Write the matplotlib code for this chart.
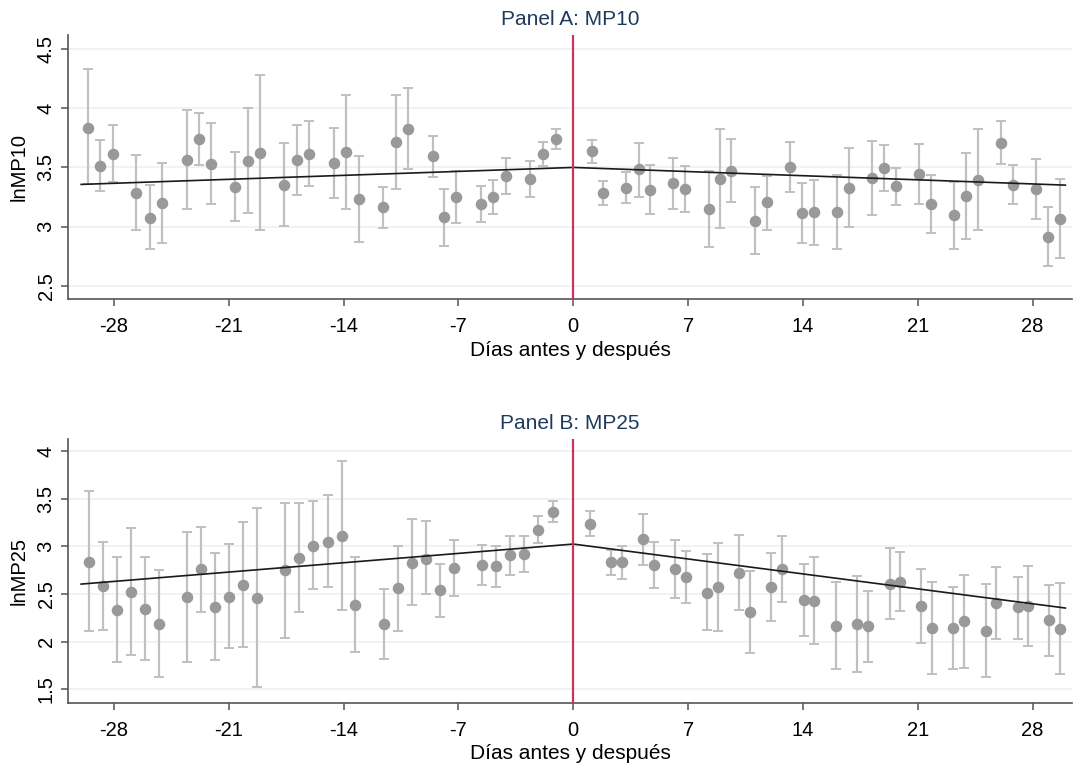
import matplotlib
matplotlib.use("Agg")
import matplotlib.pyplot as plt
import numpy as np

plt.rcParams["font.family"] = ["Liberation Sans", "DejaVu Sans"]

# Panel A: MP10
days_a = [-29.58, -28.85, -28.06, -26.63, -25.82, -25.07, -23.57, -22.84, -22.11,
          -20.61, -19.84, -19.11, -17.61, -16.83, -16.10, -14.61, -13.85, -13.08,
          -11.62, -10.81, -10.08, -8.58, -7.85, -7.12, -5.60, -4.87, -4.10,
          -2.62, -1.86, -1.07,
          1.12, 1.83, 3.23, 3.98, 4.69, 6.09, 6.84, 8.25, 8.95, 9.64,
          11.10, 11.81, 13.23, 13.96, 14.67, 16.09, 16.82, 18.22, 18.95, 19.68,
          21.06, 21.81, 23.23, 23.94, 24.69, 26.09, 26.80, 28.24, 28.95, 29.66]
mean_a = [3.834, 3.514, 3.615, 3.284, 3.076, 3.197, 3.562, 3.736, 3.525,
          3.337, 3.551, 3.624, 3.354, 3.562, 3.615, 3.534, 3.626, 3.230,
          3.163, 3.713, 3.826, 3.593, 3.079, 3.247, 3.194, 3.253, 3.427,
          3.399, 3.612, 3.739,
          3.635, 3.287, 3.326, 3.483, 3.312, 3.365, 3.315, 3.152, 3.404, 3.472,
          3.051, 3.205, 3.500, 3.112, 3.121, 3.124, 3.329, 3.407, 3.492, 3.340,
          3.444, 3.188, 3.098, 3.256, 3.393, 3.705, 3.351, 3.320, 2.916, 3.067]
upper_a = [4.329, 3.730, 3.854, 3.601, 3.348, 3.537, 3.986, 3.958, 3.874,
           3.629, 4.000, 4.281, 3.705, 3.860, 3.888, 3.831, 4.110, 3.593,
           3.334, 4.107, 4.169, 3.767, 3.317, 3.472, 3.346, 3.396, 3.579,
           3.553, 3.713, 3.823,
           3.728, 3.385, 3.461, 3.702, 3.520, 3.579, 3.514, 3.472, 3.826, 3.742,
           3.331, 3.430, 3.711, 3.365, 3.393, 3.438, 3.660, 3.722, 3.685, 3.494,
           3.699, 3.433, 3.376, 3.618, 3.823, 3.888, 3.517, 3.573, 3.163, 3.402]
lower_a = [3.357, 3.301, 3.379, 2.972, 2.809, 2.860, 3.146, 3.522, 3.188,
           3.051, 3.112, 2.972, 3.006, 3.272, 3.343, 3.244, 3.146, 2.871,
           2.992, 3.320, 3.483, 3.421, 2.837, 3.028, 3.039, 3.107, 3.275,
           3.250, 3.511, 3.654,
           3.537, 3.185, 3.197, 3.253, 3.110, 3.149, 3.121, 2.829, 2.989, 3.205,
           2.770, 2.975, 3.292, 2.862, 2.848, 2.812, 3.000, 3.101, 3.298, 3.185,
           3.194, 2.949, 2.812, 2.899, 2.969, 3.525, 3.188, 3.065, 2.666, 2.733]
fit_x_a = [-30, 0, 30]
fit_y_a = [3.357, 3.500, 3.351]

# Panel B: MP25
days_b = [-29.52, -28.67, -27.82, -26.97, -26.11, -25.26, -23.53, -22.70, -21.83,
          -21.00, -20.12, -19.27, -17.57, -16.70, -15.84, -14.97, -14.10, -13.29,
          -11.56, -10.69, -9.84, -8.97, -8.11, -7.26, -5.56, -4.69, -3.85,
          -2.98, -2.13, -1.25,
          1.02, 2.31, 2.96, 4.24, 4.91, 6.23, 6.90, 8.18, 8.85, 10.13,
          10.77, 12.07, 12.74, 14.04, 14.69, 15.99, 17.31, 17.98, 19.28, 19.90,
          21.22, 21.89, 23.17, 23.82, 25.14, 25.79, 27.09, 27.74, 29.03, 29.70]
mean_b = [2.839, 2.583, 2.331, 2.517, 2.338, 2.184, 2.464, 2.759, 2.359,
          2.471, 2.594, 2.461, 2.748, 2.881, 3.008, 3.050, 3.106, 2.387,
          2.180, 2.559, 2.829, 2.871, 2.538, 2.769, 2.804, 2.794, 2.910,
          2.917, 3.176, 3.365,
          3.236, 2.836, 2.836, 3.074, 2.808, 2.766, 2.675, 2.513, 2.569, 2.720,
          2.310, 2.573, 2.759, 2.433, 2.429, 2.163, 2.180, 2.159, 2.604, 2.626,
          2.373, 2.142, 2.142, 2.212, 2.114, 2.405, 2.359, 2.373, 2.226, 2.135]
upper_b = [3.583, 3.043, 2.888, 3.197, 2.884, 2.752, 3.151, 3.208, 2.927,
           3.025, 3.260, 3.407, 3.457, 3.457, 3.474, 3.537, 3.895, 2.888,
           2.548, 3.008, 3.292, 3.264, 2.818, 3.064, 3.018, 3.008, 3.113,
           3.106, 3.316, 3.474,
           3.369, 2.966, 3.008, 3.337, 3.050, 3.071, 2.952, 2.917, 3.032, 3.116,
           2.738, 2.927, 3.106, 2.811, 2.888, 2.622, 2.685, 2.531, 2.980, 2.945,
           2.759, 2.626, 2.569, 2.699, 2.601, 2.783, 2.682, 2.797, 2.597, 2.615]
lower_b = [2.114, 2.121, 1.784, 1.861, 1.805, 1.630, 1.784, 2.310, 1.805,
           1.928, 1.942, 1.525, 2.036, 2.310, 2.548, 2.573, 2.327, 1.886,
           1.812, 2.114, 2.380, 2.496, 2.261, 2.482, 2.594, 2.573, 2.703,
           2.727, 3.032, 3.253,
           3.109, 2.699, 2.661, 2.808, 2.566, 2.461, 2.405, 2.121, 2.114, 2.327,
           1.882, 2.219, 2.412, 2.054, 1.977, 1.710, 1.682, 1.784, 2.233, 2.317,
           1.987, 1.658, 1.714, 1.724, 1.626, 2.029, 2.022, 1.949, 1.847, 1.658]
fit_x_b = [-30, 0, 30]
fit_y_b = [2.604, 3.025, 2.352]

x_ticks = [-28, -21, -14, -7, 0, 7, 14, 21, 28]

panels = [
    ("Panel A: MP10", "lnMP10", days_a, mean_a, lower_a, upper_a, fit_x_a, fit_y_a,
     [2.5, 3, 3.5, 4, 4.5], (2.389, 4.618), [0.0634, 0.6077, 0.9356, 0.3468]),
    ("Panel B: MP25", "lnMP25", days_b, mean_b, lower_b, upper_b, fit_x_b, fit_y_b,
     [1.5, 2, 2.5, 3, 3.5, 4], (1.356, 4.133), [0.0634, 0.0790, 0.9356, 0.3460]),
]

fig = plt.figure(figsize=(10.73, 7.63), dpi=100)

for title, ylab, x, m, lo, hi, fx, fy, yticks, ylim, rect in panels:
    ax = fig.add_axes(rect)
    x = np.array(x)
    m = np.array(m)
    lo = np.array(lo)
    hi = np.array(hi)

    for yt in yticks:
        ax.axhline(yt, color="#eaf2f3", lw=1.2, zorder=0)

    ax.errorbar(x, m, yerr=[m - lo, hi - m], fmt="none", ecolor="#c0c0c0",
                elinewidth=1.6, capsize=3.8, capthick=1.4, zorder=2)
    ax.plot(x, m, "o", color="#999999", ms=7.3, mec="#999999", zorder=3)
    ax.plot(fx, fy, color="#1a1a1a", lw=1.2, zorder=4)
    ax.axvline(0, color="#c9345a", lw=1.6, zorder=5)

    ax.set_xlim(-30.8, 30.4)
    ax.set_ylim(*ylim)
    ax.set_xticks(x_ticks)
    ax.set_xticklabels([str(t) for t in x_ticks], fontsize=14.5)
    ax.set_yticks(yticks)
    ax.set_yticklabels(["%g" % t for t in yticks], fontsize=14.5, rotation=90,
                       va="center")
    ax.set_title(title, fontsize=15, color="#1f3a5c", pad=7)
    ax.set_ylabel(ylab, fontsize=14.5, labelpad=6)
    ax.set_xlabel("Días antes y después", fontsize=15, labelpad=3)

    for s in ["top", "right"]:
        ax.spines[s].set_visible(False)
    for s in ["left", "bottom"]:
        ax.spines[s].set_color("#555555")
        ax.spines[s].set_linewidth(1.2)
    ax.tick_params(axis="x", direction="out", length=5, width=1.1,
                   color="#555555", pad=8)
    ax.tick_params(axis="y", direction="out", length=5, width=1.1,
                   color="#555555", pad=4)

fig.savefig("out.png", dpi=100)
